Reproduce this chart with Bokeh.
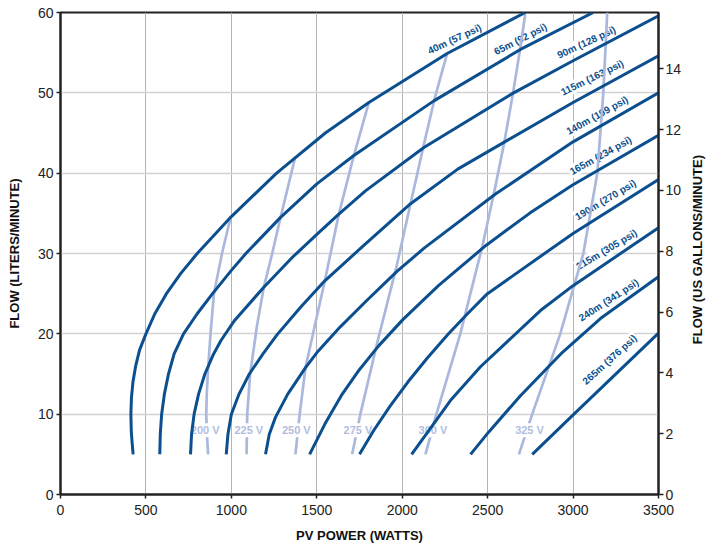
import math
from bokeh.plotting import figure
from bokeh.layouts import row
from bokeh.models import Range1d, LinearAxis, FixedTicker, ColumnDataSource
from bokeh.core.properties import value
from bokeh.embed import file_html
from bokeh.resources import INLINE

# ---------------- data (power in W, flow in L/min) ----------------
power_ticks = [0, 500, 1000, 1500, 2000, 2500, 3000, 3500]
flow_ticks = [0, 10, 20, 30, 40, 50, 60]
gal_ticks = [0, 2, 4, 6, 8, 10, 12, 14]

head_names = ["40m (57 psi)", "65m (92 psi)", "90m (128 psi)", "115m (163 psi)",
              "140m (199 psi)", "165m (234 psi)", "190m (270 psi)", "215m (305 psi)",
              "240m (341 psi)", "265m (376 psi)"]

h40_w = [425, 419, 414, 412, 415, 424, 440, 463, 500, 552, 620, 703, 800, 1000, 1265, 1550, 1805, 2263, 2720]
h40_q = [5, 6.5, 8, 10, 12, 14, 16, 18, 20, 22.5, 25, 27.5, 30, 34.6, 40, 45, 48.8, 54.9, 60]
h65_w = [581, 584, 592, 608, 632, 665, 720, 800, 890, 1000, 1085, 1288, 1502, 1717, 2185, 2692, 3118]
h65_q = [5, 7.5, 10, 12.5, 15, 17.5, 20, 22.5, 25, 27.9, 30, 34.5, 38.7, 42.2, 49.0, 55.4, 60]
h90_w = [761, 767, 782, 808, 845, 896, 940, 1020, 1190, 1356, 1502, 1629, 1785, 2127, 2644, 3000, 3500]
h90_q = [5, 7.5, 10, 12.5, 15, 17.5, 19.2, 21.7, 25.8, 29.5, 32.4, 34.9, 37.8, 43.2, 49.9, 54.0, 59.6]
h115_w = [970, 980, 1000, 1045, 1105, 1185, 1268, 1405, 1547, 1785, 2049, 2325, 2600, 3000, 3500]
h115_q = [5, 7.5, 10, 12.5, 15, 17.5, 19.9, 23.3, 26.6, 31.2, 36.2, 40.5, 43.9, 48.8, 54.6]
h140_w = [1200, 1222, 1258, 1330, 1434, 1502, 1639, 1785, 1971, 2130, 2546, 3000, 3500]
h140_q = [5, 7.5, 9.6, 12.5, 15.8, 17.7, 20.9, 24.0, 27.8, 30.7, 37.4, 43.9, 50.0]
h165_w = [1458, 1548, 1643, 1748, 1862, 2005, 2212, 2490, 2745, 2995, 3500]
h165_q = [5, 8.8, 12.3, 15.5, 18.5, 21.8, 26, 31, 35, 38.5, 44.7]
h190_w = [1750, 1834, 1929, 2033, 2147, 2271, 2382, 2499, 3000, 3500]
h190_q = [5, 8, 11, 14, 17, 20, 22.5, 25.0, 32.5, 39.2]
h215_w = [2055, 2282, 2458, 2809, 3000, 3500]
h215_q = [5, 11.7, 15.9, 22.9, 26.0, 33.2]
h240_w = [2400, 2503, 2692, 2938, 3160, 3500]
h240_q = [5, 7.7, 12.3, 17.7, 21.9, 27.1]
h265_w = [2761, 3005, 3500]
h265_q = [5, 10.0, 20.1]

volt_names = ["200 V", "225 V", "250 V", "275 V", "300 V", "325 V"]
v200_w = [864, 857, 853, 856, 862, 878, 898, 945, 997]
v200_q = [5, 7.5, 10, 12.5, 15, 20, 25, 30, 34.6]
v225_w = [1089, 1093, 1110, 1150, 1190, 1239, 1288, 1375]
v225_q = [5, 10, 15, 21, 25.8, 30, 34.5, 42.1]
v250_w = [1375, 1400, 1434, 1547, 1629, 1717, 1805]
v250_q = [5, 10, 15.8, 26.6, 34.9, 42.2, 48.8]
v275_w = [1707, 1755, 1855, 1968, 2052, 2126, 2190, 2263]
v275_q = [5, 10, 19, 28.5, 36.5, 43.5, 49.3, 54.9]
v300_w = [2136, 2200, 2340, 2470, 2540, 2597, 2648, 2692, 2720]
v300_q = [5, 10, 20, 31.0, 37.8, 43.8, 49.9, 55.7, 59.8]
v325_w = [2683, 2761, 2925, 3060, 3142, 3177, 3200]
v325_q = [5, 10, 20, 30, 40, 50, 60]

# label anchors (annotation positions)
head_lab_w = [2306, 2692, 3078, 3112, 3141, 3161, 3190, 3196, 3208, 3214]
head_lab_q = [56.7, 56.7, 56.3, 51.9, 47.2, 42.2, 36.7, 30.5, 24.2, 16.8]
head_lab_deg = [25, 27, 25, 26, 29, 29, 31, 31, 33, 42]
volt_lab_w = [847, 1102, 1380, 1741, 2180, 2745]
volt_lab_q = [8.0, 8.0, 8.0, 8.0, 8.0, 8.0]

L_PER_GAL = 3.78541

# ---------------- styling ----------------
BLUE = "#0b4f8f"
LIGHT = "#a9b8dc"
VTEXT = "#b1bde0"
FONT = value("Liberation Sans")

p = figure(width=684, height=547, x_range=Range1d(0, 3500), y_range=Range1d(0, 60),
           output_backend="svg", toolbar_location=None,
           min_border_left=60, min_border_right=26, min_border_top=12, min_border_bottom=53)
p.background_fill_color = "white"
p.border_fill_color = "white"
p.outline_line_color = "#222222"
p.outline_line_width = 2

p.extra_y_ranges = {"gal": Range1d(0, 60 / L_PER_GAL)}
right = LinearAxis(y_range_name="gal", ticker=FixedTicker(ticks=gal_ticks))
p.add_layout(right, "right")

p.xaxis.ticker = FixedTicker(ticks=power_ticks)
p.xaxis.axis_label = "PV POWER (WATTS)"
left = p.left[0]
left.ticker = FixedTicker(ticks=flow_ticks)
left.axis_label = "FLOW (LITERS/MINUTE)"

for ax in [p.below[0], left, right]:
    ax.axis_line_color = "#222222"
    ax.axis_line_width = 2
    ax.major_tick_line_color = "#222222"
    ax.major_tick_line_width = 1.5
    ax.major_tick_in = 0
    ax.major_tick_out = 4
    ax.minor_tick_line_color = None
    ax.major_label_text_font = "Liberation Sans"
    ax.major_label_text_font_size = "14px"
    ax.major_label_text_color = "#222222"
    ax.axis_label_text_font = "Liberation Sans"
    ax.axis_label_text_font_style = "bold"
    ax.axis_label_text_font_size = "13px"
    ax.axis_label_text_color = "#111111"

left.major_label_standoff = 3
left.axis_label_standoff = 13
right.major_tick_out = 5
right.major_label_standoff = 2
p.below[0].major_label_standoff = 6
p.below[0].axis_label_standoff = 10

p.xgrid.ticker = FixedTicker(ticks=power_ticks)
p.ygrid.ticker = FixedTicker(ticks=flow_ticks)
p.xgrid.grid_line_color = "#b4b4b4"
p.xgrid.grid_line_width = 1
p.ygrid.grid_line_color = "#d2d2d2"
p.ygrid.grid_line_width = 1.3

heads_w = [h40_w, h65_w, h90_w, h115_w, h140_w, h165_w, h190_w, h215_w, h240_w, h265_w]
heads_q = [h40_q, h65_q, h90_q, h115_q, h140_q, h165_q, h190_q, h215_q, h240_q, h265_q]
volts_w = [v200_w, v225_w, v250_w, v275_w, v300_w, v325_w]
volts_q = [v200_q, v225_q, v250_q, v275_q, v300_q, v325_q]

# head labels (white box hides grid)
hsrc = ColumnDataSource(dict(x=head_lab_w, y=head_lab_q, t=head_names,
                             a=[math.radians(d) for d in head_lab_deg]))
p.text(x="x", y="y", text="t", angle="a", source=hsrc, text_font=FONT,
       text_font_style="bold", text_font_size="10px", text_color=BLUE,
       text_align="center", text_baseline="middle",
       background_fill_color="white", padding=1)

# voltage lines
p.multi_line(xs=volts_w, ys=volts_q, line_color=LIGHT, line_width=2.7, line_join="round")

vsrc = ColumnDataSource(dict(x=volt_lab_w, y=volt_lab_q, t=volt_names))
p.text(x="x", y="y", text="t", source=vsrc, text_font=FONT,
       text_font_style="bold", text_font_size="11px", text_color=VTEXT,
       text_align="center", text_baseline="middle",
       background_fill_color="white", padding=1)

# pump curves
p.multi_line(xs=heads_w, ys=heads_q, line_color=BLUE, line_width=3, line_join="round")

# narrow strip holding the right-hand axis title (reads bottom-to-top)
strip = figure(width=30, height=547, x_range=Range1d(0, 30), y_range=Range1d(0, 547),
               output_backend="svg", toolbar_location=None,
               x_axis_location=None, y_axis_location=None, min_border=0)
strip.outline_line_color = None
strip.grid.visible = False
strip.background_fill_color = "white"
strip.border_fill_color = "white"
strip.text(x=[13], y=[278], text=["FLOW (US GALLONS/MINUTE)"], angle=[math.pi / 2],
           text_font=FONT, text_font_style="bold", text_font_size="13px",
           text_color="#111111", text_align="center", text_baseline="middle")

layout = row(p, strip, spacing=0)
open("out.html", "w").write(file_html(layout, INLINE))
